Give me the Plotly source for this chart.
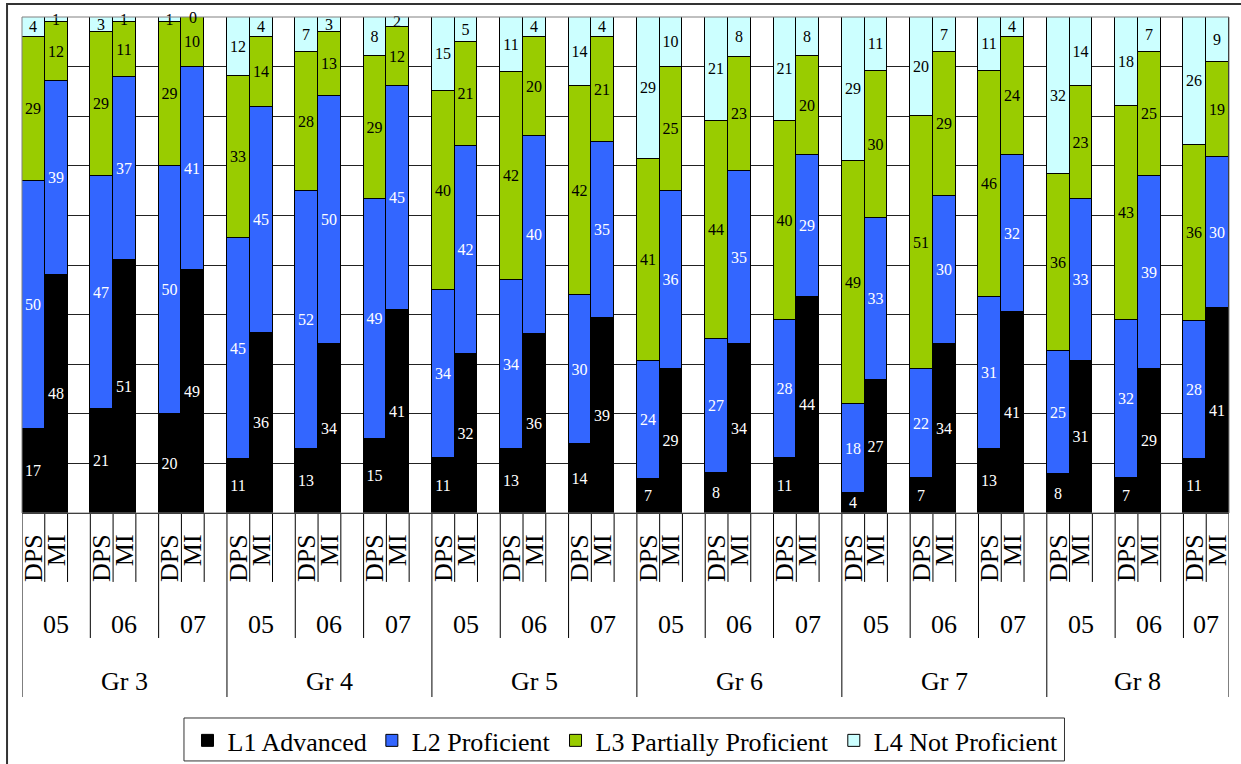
import plotly.graph_objects as go

# Share of students at each performance level (percent), one entry per bar.
# Order: grade -> year -> school (DPS, MI).
grades = ["Gr 3", "Gr 4", "Gr 5", "Gr 6", "Gr 7", "Gr 8"]
years = ["05", "06", "07"]
schools = ["DPS", "MI"]

l1_advanced = [
    17, 48, 21, 51, 20, 49,
    11, 36, 13, 34, 15, 41,
    11, 32, 13, 36, 14, 39,
    7, 29, 8, 34, 11, 44,
    4, 27, 7, 34, 13, 41,
    8, 31, 7, 29, 11, 41,
]
l2_proficient = [
    50, 39, 47, 37, 50, 41,
    45, 45, 52, 50, 49, 45,
    34, 42, 34, 40, 30, 35,
    24, 36, 27, 35, 28, 29,
    18, 33, 22, 30, 31, 32,
    25, 33, 32, 39, 28, 30,
]
l3_partial = [
    29, 12, 29, 11, 29, 10,
    33, 14, 28, 13, 29, 12,
    40, 21, 42, 20, 42, 21,
    41, 25, 44, 23, 40, 20,
    49, 30, 51, 29, 46, 24,
    36, 23, 43, 25, 36, 19,
]
l4_not_proficient = [
    4, 1, 3, 1, 1, 0,
    12, 4, 7, 3, 8, 2,
    15, 5, 11, 4, 14, 4,
    29, 10, 21, 8, 21, 8,
    29, 11, 20, 7, 11, 4,
    32, 14, 18, 7, 26, 9,
]

series = [
    ("L1 Advanced", l1_advanced, "#000000", "white"),
    ("L2 Proficient", l2_proficient, "#3366FF", "white"),
    ("L3 Partially Proficient", l3_partial, "#99CC00", "black"),
    ("L4 Not Proficient", l4_not_proficient, "#CCFFFF", "black"),
]

FONT = "Liberation Serif"

# Each year group takes three slots: DPS, MI and an empty spacer slot
# (the spacer is dropped after the very last group).
slots_per_year = 3
slots_per_grade = slots_per_year * len(years)
n_slots = slots_per_grade * len(grades) - 1

x_pos, tick_text = [], []
for gi in range(len(grades)):
    for yi in range(len(years)):
        for si, s in enumerate(schools):
            x_pos.append(gi * slots_per_grade + yi * slots_per_year + si)
            tick_text.append(s)

fig = go.Figure()
for name, vals, color, txtcolor in series:
    fig.add_trace(go.Bar(
        name=name,
        x=x_pos,
        y=vals,
        text=[str(v) for v in vals],
        texttemplate="%{text}",
        textposition="inside",
        insidetextanchor="middle",
        textangle=0,
        textfont=dict(family=FONT, size=16, color=txtcolor),
        marker=dict(color=color, line=dict(color="#000000", width=1)),
        cliponaxis=False,
        hovertemplate=name + ": %{text}%<extra></extra>",
    ))

annotations = []

# Zero-height segments carry no bar text, so label them at their stack position
totals = [sum(v) for v in zip(*(s[1] for s in series))]
running = [0.0] * len(x_pos)
for name, vals, color, txtcolor in series:
    for i, v in enumerate(vals):
        running[i] += v
        if v == 0:
            annotations.append(dict(text="0", xref="x", yref="y", x=x_pos[i],
                                    y=100 * running[i] / totals[i], showarrow=False,
                                    yanchor="middle",
                                    font=dict(family=FONT, size=16, color=txtcolor)))

# Axis separators below the plot: short ticks between bars, longer lines
# between years, full-height lines between grades.
Y_SHORT, Y_YEAR, Y_GRADE = -0.139, -0.252, -0.371
shapes = []
for k in range(n_slots + 1):
    if k % slots_per_grade == 0 or k == n_slots:
        y1 = Y_GRADE
    elif k % slots_per_year == 0:
        y1 = Y_YEAR
    else:
        y1 = Y_SHORT
    shapes.append(dict(type="line", xref="x", yref="paper",
                       x0=k - 0.5, x1=k - 0.5, y0=0, y1=y1,
                       line=dict(color="#000000", width=1)))

# Plot-area border, outer chart frame and legend box
shapes.append(dict(type="rect", xref="paper", yref="paper", x0=0, x1=1, y0=0, y1=1,
                   line=dict(color="#808080", width=1), layer="above"))
shapes.append(dict(type="rect", xref="paper", yref="paper",
                   x0=-0.0124, x1=1.0137, y0=-0.53, y1=1.026,
                   line=dict(color="#333333", width=2)))
shapes.append(dict(type="rect", xref="paper", yref="paper",
                   x0=0.1342, x1=0.8637, y0=-0.4999, y1=-0.4133,
                   line=dict(color="#333333", width=1)))

for gi, g in enumerate(grades):
    g_start = gi * slots_per_grade
    g_end = min(g_start + slots_per_grade, n_slots)
    annotations.append(dict(text=g, xref="x", yref="paper",
                            x=(g_start + g_end - 1) / 2, y=-0.3407,
                            showarrow=False, yanchor="middle",
                            font=dict(family=FONT, size=26, color="black")))
    for yi, yr in enumerate(years):
        y_start = g_start + yi * slots_per_year
        y_end = min(y_start + slots_per_year, n_slots)
        annotations.append(dict(text=yr, xref="x", yref="paper",
                                x=(y_start + y_end - 1) / 2, y=-0.2258,
                                showarrow=False, yanchor="middle",
                                font=dict(family=FONT, size=26, color="black")))

fig.update_layout(
    width=1241, height=764,
    margin=dict(l=22, r=12, t=17, b=251, autoexpand=False),
    barmode="stack",
    barnorm="percent",
    bargap=0,
    plot_bgcolor="white",
    paper_bgcolor="white",
    font=dict(family=FONT, color="black"),
    showlegend=True,
    legend=dict(orientation="h", x=0.5, xanchor="center", y=-0.4586, yanchor="middle",
                traceorder="normal", borderwidth=0, bgcolor="rgba(0,0,0,0)",
                font=dict(family=FONT, size=26, color="black"),
                itemwidth=30, tracegroupgap=0),
    uniformtext=dict(minsize=16, mode="show"),
    shapes=shapes,
    annotations=annotations,
    xaxis=dict(range=[-0.5, n_slots - 0.5], tickmode="array", tickvals=x_pos,
               ticktext=tick_text, tickangle=-90, ticks="",
               ticklabelstandoff=10, automargin=False,
               tickfont=dict(family=FONT, size=26, color="black"),
               showgrid=False, zeroline=False, showline=True,
               linecolor="#000000", linewidth=1),
    yaxis=dict(range=[0, 100.001], tickvals=[10, 20, 30, 40, 50, 60, 70, 80, 90],
               showticklabels=False, ticks="", automargin=False,
               showgrid=True, gridcolor="#222222", gridwidth=1,
               zeroline=False, showline=False),
)

fig.write_html("out.html")
